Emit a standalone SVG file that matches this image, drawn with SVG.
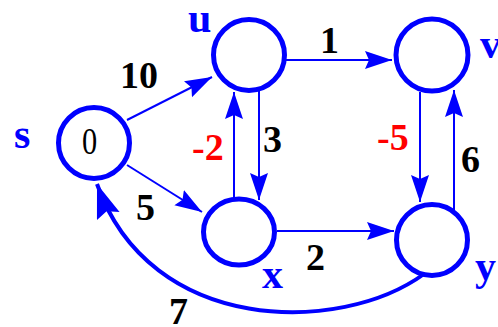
<svg xmlns="http://www.w3.org/2000/svg" width="498" height="327" viewBox="0 0 498 327">
<style>
.node{fill:#fff;stroke:#0000ff;stroke-width:5}
.edge{fill:none;stroke:#0000ff;stroke-width:2}
.curve{fill:none;stroke:#0000ff;stroke-width:4}
.nl{font-family:"Liberation Serif",serif;font-weight:bold;font-size:42px;fill:#0000ff}
.w{font-family:"Liberation Serif",serif;font-weight:bold;font-size:38px;fill:#000}
.neg{fill:#ff0000}
</style>
<defs>
<marker id="ah" markerUnits="userSpaceOnUse" markerWidth="30" markerHeight="20" refX="27" refY="9" orient="auto">
<path d="M0,0 L27,9 L0,18 L4,9 Z" fill="#0000ff"/>
</marker>
<marker id="ahb" markerUnits="userSpaceOnUse" markerWidth="38" markerHeight="26" refX="34" refY="12" orient="auto">
<path d="M0,0 L34,12 L0,24 L5,12 Z" fill="#0000ff"/>
</marker>
</defs>
<g id="connectors">
<line class="edge" x1="127" y1="120" x2="212" y2="77" marker-end="url(#ah)"/>
<line class="edge" x1="127" y1="165" x2="202" y2="212" marker-end="url(#ah)"/>
<line class="edge" x1="285" y1="60" x2="392" y2="60" marker-end="url(#ah)"/>
<line class="edge" x1="259" y1="91" x2="259" y2="200" marker-end="url(#ah)"/>
<line class="edge" x1="234" y1="198" x2="234" y2="92" marker-end="url(#ah)"/>
<line class="edge" x1="277" y1="231" x2="394" y2="231" marker-end="url(#ah)"/>
<line class="edge" x1="420" y1="92" x2="420" y2="202" marker-end="url(#ah)"/>
<line class="edge" x1="454" y1="212" x2="454" y2="90" marker-end="url(#ah)"/>
<path class="curve" d="M424,274 C340,335 150,335 97,184" marker-end="url(#ahb)"/>
</g>
<g id="node-s">
<circle class="node" cx="94" cy="143" r="35.5"/>
<text class="nl" x="14" y="148">s</text>
<text transform="translate(89.5,154) scale(0.8,1)" text-anchor="middle" font-family="Liberation Serif, serif" font-size="38" fill="#000">0</text>
</g>
<g id="node-u">
<circle class="node" cx="249" cy="55" r="35.5"/>
<text class="nl" x="188" y="32">u</text>
</g>
<g id="node-v">
<circle class="node" cx="432" cy="55" r="36"/>
<text class="nl" x="480" y="58">v</text>
</g>
<g id="node-x">
<ellipse class="node" cx="239" cy="232" rx="35.5" ry="33"/>
<text class="nl" x="262" y="288">x</text>
</g>
<g id="node-y">
<circle class="node" cx="432" cy="240" r="35.5"/>
<text class="nl" x="475" y="280">y</text>
</g>
<g id="labels">
<text class="w" x="120" y="88">10</text>
<text class="w" x="320" y="53">1</text>
<text class="w" x="263" y="152">3</text>
<text class="w neg" x="192" y="160">-2</text>
<text class="w neg" x="377" y="150">-5</text>
<text class="w" x="461" y="172">6</text>
<text class="w" x="136" y="220">5</text>
<text class="w" x="306" y="270">2</text>
<text class="w" x="169" y="324">7</text>
</g>
</svg>
